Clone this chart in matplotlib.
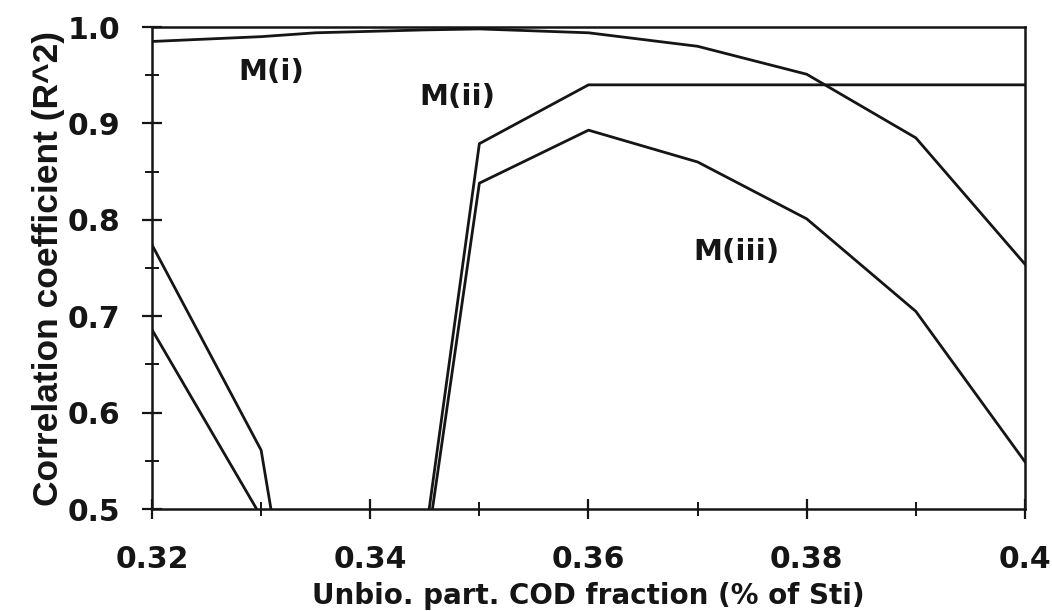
import matplotlib
matplotlib.use("Agg")
import matplotlib.pyplot as plt
from matplotlib.ticker import MultipleLocator

# fraction of unbiodegradable particulate COD
x = [0.32, 0.33, 0.335, 0.345, 0.35, 0.36, 0.37, 0.38, 0.39, 0.40]

# R^2 for the three models (values below 0.5 are off the chart)
m_i = [0.985, 0.990, 0.994, 0.997, 0.998, 0.994, 0.980, 0.951, 0.885, 0.754]
m_ii = [0.774, 0.561, 0.222, 0.467, 0.879, 0.940, 0.940, 0.940, 0.940, 0.940]
m_iii = [0.686, 0.492, 0.420, 0.445, 0.838, 0.893, 0.860, 0.801, 0.705, 0.549]

labels = ["M(i)", "M(ii)", "M(iii)"]
label_pos = [(0.3309, 0.953), (0.3480, 0.927), (0.3736, 0.767)]

xticks = [0.32, 0.34, 0.36, 0.38, 0.40]
xticklabels = ["0.32", "0.34", "0.36", "0.38", "0.4"]
yticks = [0.5, 0.6, 0.7, 0.8, 0.9, 1.0]
yticklabels = ["0.5", "0.6", "0.7", "0.8", "0.9", "1.0"]

fig = plt.figure(figsize=(10.52, 6.11), dpi=100)
ax = fig.add_axes([0.1445, 0.1669, 0.8298, 0.7889])

for series in (m_i, m_ii, m_iii):
    ax.plot(x, series, color="#151515", lw=2.0)

for text, (tx, ty) in zip(labels, label_pos):
    ax.text(tx, ty, text, fontsize=21, fontweight="bold",
            ha="center", va="center", color="#151515")

ax.set_xlim(0.32, 0.40)
ax.set_ylim(0.5, 1.0)
ax.set_xticks(xticks)
ax.set_xticklabels(xticklabels)
ax.set_yticks(yticks)
ax.set_yticklabels(yticklabels)
ax.xaxis.set_minor_locator(MultipleLocator(0.01))
ax.yaxis.set_minor_locator(MultipleLocator(0.05))

ax.tick_params(which="major", direction="inout", length=14, width=1.6,
               color="#151515")
ax.tick_params(which="minor", direction="inout", length=10, width=1.4,
               color="#151515")
ax.tick_params(axis="x", which="major", pad=19)
ax.tick_params(axis="y", which="major", pad=16)

for lab in ax.get_xticklabels() + ax.get_yticklabels():
    lab.set_fontsize(21.5)
    lab.set_fontweight("bold")
    lab.set_color("#151515")

for sp in ax.spines.values():
    sp.set_linewidth(1.8)
    sp.set_color("#151515")

ax.set_xlabel("Unbio. part. COD fraction (% of Sti)", fontsize=20,
              fontweight="bold", color="#151515", labelpad=6)
ax.set_ylabel("Correlation coefficient (R^2)", fontsize=25.5,
              fontweight="bold", color="#151515", labelpad=2,
              family=["Liberation Sans", "DejaVu Sans"])

fig.savefig("out.png", dpi=100)
